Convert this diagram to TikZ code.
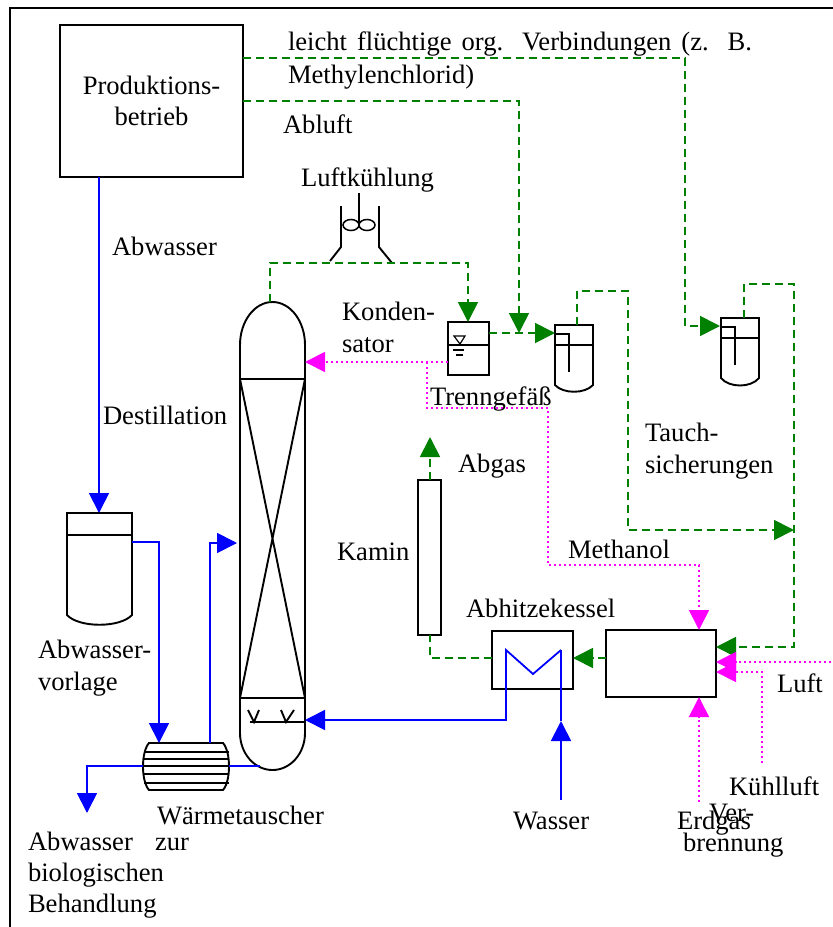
\documentclass[tikz,border=0pt]{standalone}
\usepackage{fontspec}
\setmainfont{Liberation Serif}
\usetikzlibrary{arrows.meta}
\definecolor{dgreen}{RGB}{0,128,0}
\definecolor{mag}{RGB}{255,0,255}
\definecolor{pureblue}{RGB}{0,0,255}
\tikzset{
  x=1pt,y=-1pt,
  lab/.style={anchor=base west,inner sep=0pt,outer sep=0pt,font=\fontsize{26.6}{32}\selectfont},
  blk/.style={draw=black,line width=1.9pt},
  unit/.style={blk,inner sep=0pt,outer sep=0pt,rectangle,anchor=north west},
  gline/.style={draw=dgreen,line width=1.8pt,dash pattern=on 8pt off 5pt},
  mline/.style={draw=mag,line width=1.8pt,dash pattern=on 2pt off 3pt},
  bline/.style={draw=pureblue,line width=1.8pt},
  gtip/.style={-{Triangle[length=20pt,width=20pt,color=dgreen,fill=dgreen]}},
  mtip/.style={-{Triangle[length=20pt,width=20pt,color=mag,fill=mag]}},
  btip/.style={-{Triangle[length=20pt,width=20pt,color=pureblue,fill=pureblue]}},
}
\begin{document}
\begin{tikzpicture}
\useasboundingbox (0,0) rectangle (833,927);
\fill[white] (0,0) rectangle (833,927);
\draw[blk] (10,927) -- (10,8) -- (833,8);

% boxes
\node[unit,minimum width=183pt,minimum height=152pt,align=center,font=\fontsize{26.6}{31}\selectfont] (prod) at (60,25) {Produktions-\\betrieb};
\node[unit,minimum width=41pt,minimum height=53pt] (sep) at (448,322) {};
\node[unit,minimum width=23pt,minimum height=155pt] (kamin) at (418,480) {};
\node[unit,minimum width=81pt,minimum height=58pt] (hk) at (492,631) {};
\node[unit,minimum width=110pt,minimum height=67pt] (burn) at (606,630) {};

% named points
\coordinate (coltop) at (270,302);
\coordinate (colR) at (305,362);
\coordinate (colin) at (305,720);
\coordinate (colfeed) at (237,543);
\coordinate (colout) at (260,766);
\coordinate (v1) at (555,333);
\coordinate (v1out) at (577,325);
\coordinate (v2) at (720,326);
\coordinate (v2out) at (744,318);
\coordinate (tank) at (99,513);
\coordinate (tankout) at (132,542);
\coordinate (hxin) at (159,743);
\coordinate (hxtop) at (210,743);
\coordinate (hxR) at (229,766);
\coordinate (hxL) at (143,766);
\coordinate (wasteend) at (87,813);
\coordinate (gasend) at (430,437);
\coordinate (waterstart) at (561,800);
\coordinate (luftstart) at (831,662);
\coordinate (kuehlstart) at (762,763);
\coordinate (erdgasstart) at (699,802);
\coordinate (junction) at (794,530);

% column
\draw[blk] (240,345) arc[start angle=180,end angle=0,x radius=32.5pt,y radius=43pt] -- (305,733)
  arc[start angle=0,end angle=-180,x radius=32.5pt,y radius=37pt] -- cycle;
\draw[blk] (240,379) -- (305,379) (240,698) -- (305,698);
\draw[blk] (240,379) -- (305,698) (305,379) -- (240,698);
\draw[blk] (250,722) -- (305,722);
\draw[blk] (248,710) -- (254,722) -- (259,710) (281,710) -- (286,722) -- (294,710);

% fan
\draw[blk] (359,193) -- (359,225);
\draw[blk,line width=1.5pt] (351,225) ellipse[x radius=8pt,y radius=5.5pt] (367,225) ellipse[x radius=8pt,y radius=5.5pt];
\draw[blk] (341,206) -- (341,247) -- (330,261) (379,206) -- (379,247) -- (392,263);

% separator details
\draw[blk] (sep.west |- 0,345) -- (sep.east |- 0,345);
\draw[line width=1.2pt] (454,336) -- (465,336) -- (460,344) -- cycle;
\draw[line width=1.2pt] (453,350) -- (464,350) (456,355) -- (463,355);

% vessels
\draw[blk] (555,325) -- (593,325) -- (593,385) .. controls (585,394) and (563,394) .. (555,385) -- cycle;
\draw[blk] (555,345) -- (593,345);
\draw[blk] (555,334) -- (569,334) -- (569,372);
\draw[blk] (721,318) -- (759,318) -- (759,378) .. controls (751,388) and (729,388) .. (721,378) -- cycle;
\draw[blk] (721,338) -- (759,338);
\draw[blk] (721,327) -- (735,327) -- (735,365);

% feed tank
\draw[blk] (67,513) -- (132,513) -- (132,615) .. controls (120,628) and (79,628) .. (67,615) -- cycle;
\draw[blk] (67,535) -- (132,535);

% heat exchanger
\draw[blk] (149,743) -- (223,743) .. controls (231,752) and (231,781) .. (223,790) -- (149,790) .. controls (141,781) and (141,752) .. (149,743) -- cycle;
\foreach \yy in {752,759,766,774,783} \draw[blk] (144,\yy) -- (229,\yy);

% green connectors
\draw[gline,gtip] (prod.east |- 0,58) -- (685,58) -- (685,326) -- (v2);
\draw[gline,gtip] (prod.east |- 0,101) -- (519,101) -- (519,333);
\draw[gline,gtip] (coltop) -- (270,263) -- (468,263) -- (sep.north -| 468,0);
\draw[gline,gtip] (sep.east |- 0,333) -- (v1);
\draw[gline,gtip] (v1out) -- (577,291) -- (628,291) -- (628,530) -- (junction);
\draw[gline,gtip] (v2out) -- (744,284) -- (794,284) -- (794,647) -- (burn.east |- 0,647);
\draw[gline,gtip] (burn.west |- 0,658) -- (hk.east |- 0,658);
\draw[gline] (hk.west |- 0,658) -- (430,658) -- (kamin.south -| 430,0);
\draw[gline,gtip] (kamin.north -| 430,0) -- (gasend);

% magenta connectors
\draw[mline,mtip] (sep.west |- 0,362) -- (colR);
\draw[mline,mtip] (427,362) -- (427,408) -- (548,408) -- (548,565) -- (699,565) -- (burn.north -| 699,0);
\draw[mline,mtip] (luftstart) -- (burn.east |- 0,662);
\draw[mline,mtip] (kuehlstart) -- (762,672) -- (burn.east |- 0,672);
\draw[mline,mtip] (erdgasstart) -- (burn.south -| 699,0);

% blue connectors
\draw[bline,btip] (prod.south -| 99,0) -- (tank);
\draw[bline,btip] (tankout) -- (159,542) -- (hxin);
\draw[bline,btip] (hxtop) -- (210,543) -- (colfeed);
\draw[bline] (colout) -- (hxR);
\draw[bline,btip] (hxL) -- (87,766) -- (wasteend);
\draw[bline,btip] (561,650) -- (533,674) -- (506,650) -- (506,720) -- (colin);
\draw[bline,btip] (waterstart) -- (561,721);
\draw[bline] (561,721) -- (561,650);

% labels
\node[lab] (t1) at (288,50) {\makebox[464pt][s]{leicht flüchtige org. Verbindungen (z. B.}};
\node[lab] (t2) at (288,83) {Methylenchlorid)};
\node[lab] (t3) at (283,133) {Abluft};
\node[lab] (t4) at (301,186) {Luftkühlung};
\node[lab] (t5) at (112,255) {Abwasser};
\node[lab] (t6) at (342,320) {Konden-};
\node[lab] (t7) at (342,352) {sator};
\node[lab] (t8) at (430,405) {Trenngefäß};
\node[lab] (t9) at (103,424) {Destillation};
\node[lab] (t10) at (645,441) {Tauch-};
\node[lab] (t11) at (645,473) {sicherungen};
\node[lab] (t12) at (458,472) {Abgas};
\node[lab] (t13) at (337,560) {Kamin};
\node[lab] (t14) at (568,558) {Methanol};
\node[lab] (t15) at (466,617) {Abhitzekessel};
\node[lab] (t16) at (38,658) {Abwasser-};
\node[lab] (t17) at (38,690) {vorlage};
\node[lab] (t18) at (777,692) {Luft};
\node[lab] (t19) at (729,795) {Kühlluft};
\node[lab] (t20) at (157,824) {Wärmetauscher};
\node[lab] (t21) at (513,829) {Wasser};
\node[lab] (t22) at (677,829) {Erdgas};
\node[lab] (t23) at (709,821) {Ver-};
\node[lab] (t24) at (683,851) {brennung};
\node[lab] (t25) at (28,850) {\makebox[161pt][s]{Abwasser zur}};
\node[lab] (t26) at (28,881) {biologischen};
\node[lab] (t27) at (28,912) {Behandlung};
\end{tikzpicture}
\end{document}
